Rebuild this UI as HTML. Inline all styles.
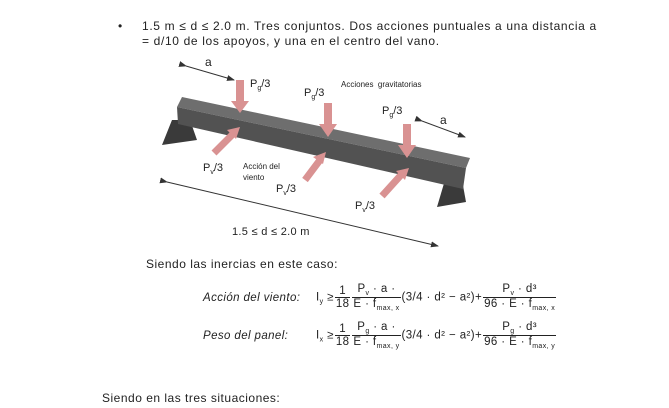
<!DOCTYPE html>
<html><head><meta charset="utf-8"><style>
body{margin:0;width:669px;height:408px;background:#fff;position:relative;overflow:hidden;font-family:"Liberation Sans",sans-serif;color:#222}
.t{position:absolute;white-space:nowrap}
.f{position:absolute;font-size:11.5px;white-space:nowrap;letter-spacing:0.4px}
.fr{display:inline-block;vertical-align:middle;text-align:center;margin:0 1px}
.fr span{display:block;padding:0 1px}
.fr .n{border-bottom:1px solid #222}
sub{font-size:7px;vertical-align:-3px}
</style></head><body>
<div class="t" style="left:118px;top:19px;font-size:12px">•</div>
<div class="t" style="left:142px;top:19px;font-size:12px;letter-spacing:0.65px">1.5 m ≤ d ≤ 2.0 m. Tres conjuntos. Dos acciones puntuales a una distancia a</div>
<div class="t" style="left:142px;top:34px;font-size:12px;letter-spacing:0.65px">= d/10 de los apoyos, y una en el centro del vano.</div>

<svg style="position:absolute;left:0;top:0" width="669" height="408">
<defs><marker id="ah" markerWidth="8" markerHeight="6" refX="7" refY="3" orient="auto"><path d="M0,0L8,3L0,6z" fill="#333"/></marker></defs>
<polygon points="162,145 172,120 190,120 197,140" fill="#3a3a3a"/>
<polygon points="437,207 445,180 462,180 466,202" fill="#3a3a3a"/>
<polygon points="182,97 470,158 466,168 177,107" fill="#6e6e6e"/>
<polygon points="177,107 466,168 463,189 178,124" fill="#525252"/>
<g fill="#d99292">
<rect x="236" y="80" width="8" height="22"/><polygon points="231,101 249,101 240,113"/>
<rect x="324" y="103" width="8" height="22"/><polygon points="319,124 337,124 328,137"/>
<rect x="403" y="124" width="8" height="22"/><polygon points="398,145 416,145 407,158"/>
</g>
<g stroke="#d99292" stroke-width="7"><line x1="214" y1="153" x2="233" y2="134"/><line x1="305" y1="180" x2="320" y2="160"/><line x1="382" y1="196" x2="401" y2="175"/></g>
<g fill="#d99292"><polygon points="240,127 227,130 236,139"/><polygon points="326,152 313,157 323,164"/><polygon points="409,168 396,171 405,180"/></g>
<g stroke="#333" stroke-width="1" marker-end="url(#ah)" marker-start="url(#ah)">
<line x1="186" y1="66" x2="234" y2="80"/><line x1="422" y1="121" x2="465" y2="137"/><line x1="167" y1="182" x2="438" y2="246"/>
</g>
</svg>
<div class="t" style="left:205px;top:55px;font-size:12px">a</div>
<div class="t" style="left:440px;top:113px;font-size:12px">a</div>
<div class="t" style="left:250px;top:78px;font-size:11px">P<sub>g</sub>/3</div>
<div class="t" style="left:304px;top:87px;font-size:11px">P<sub>g</sub>/3</div>
<div class="t" style="left:382px;top:105px;font-size:11px">P<sub>g</sub>/3</div>
<div class="t" style="left:341px;top:80px;font-size:8px">Acciones&nbsp; gravitatorias</div>
<div class="t" style="left:203px;top:162px;font-size:11px">P<sub>v</sub>/3</div>
<div class="t" style="left:276px;top:183px;font-size:11px">P<sub>v</sub>/3</div>
<div class="t" style="left:355px;top:200px;font-size:11px">P<sub>v</sub>/3</div>
<div class="t" style="left:243px;top:161px;font-size:8px;line-height:11px">Acción del<br>viento</div>
<div class="t" style="left:232px;top:226px;font-size:11px;letter-spacing:0.3px">1.5 ≤ d ≤ 2.0 m</div>

<div class="t" style="left:146px;top:257px;font-size:12px;letter-spacing:0.5px">Siendo las inercias en este caso:</div>
<div class="f" style="left:203px;top:283px"><i style="display:inline-block;width:113px">Acción del viento:</i>I<sub>y</sub> ≥<span class="fr"><span class="n">1</span><span>18</span></span><span class="fr"><span class="n">P<sub>v</sub> · a ·</span><span>E · f<sub>max, x</sub></span></span>(3/4 · d² − a²)+<span class="fr"><span class="n">P<sub>v</sub> · d³</span><span>96 · E · f<sub>max, x</sub></span></span></div>
<div class="f" style="left:203px;top:321px"><i style="display:inline-block;width:113px">Peso del panel:</i>I<sub>x</sub> ≥<span class="fr"><span class="n">1</span><span>18</span></span><span class="fr"><span class="n">P<sub>g</sub> · a ·</span><span>E · f<sub>max, y</sub></span></span>(3/4 · d² − a²)+<span class="fr"><span class="n">P<sub>g</sub> · d³</span><span>96 · E · f<sub>max, y</sub></span></span></div>
<div class="t" style="left:102px;top:391px;font-size:12px;letter-spacing:0.5px">Siendo en las tres situaciones:</div>
</body></html>
